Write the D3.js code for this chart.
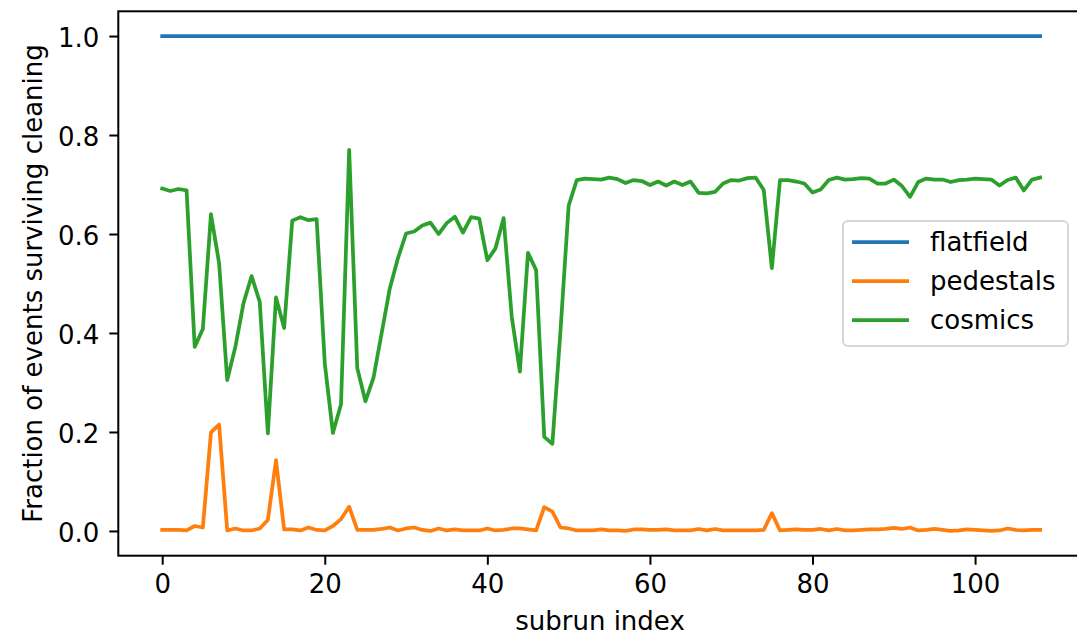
<!DOCTYPE html>
<html>
<head>
<meta charset="utf-8">
<script src="https://cdn.jsdelivr.net/npm/d3@7"></script>
<style>
  body { margin: 0; background: #fff; }
  svg { display: block; font-family: "DejaVu Sans", sans-serif; }
</style>
</head>
<body>
<div id="chart"></div>
<script>
// values
const subruns = d3.range(0, 109);

const flatfield = subruns.map(() => 1.0);

const pedestals = [
  0.002, 0.002, 0.002, 0.001, 0.010, 0.007, 0.199, 0.215, 0.001, 0.005,
  0.001, 0.001, 0.005, 0.022, 0.143, 0.003, 0.003, 0.001, 0.007, 0.002,
  0.001, 0.010, 0.024, 0.049, 0.002, 0.002, 0.002, 0.004, 0.007, 0.001,
  0.005, 0.007, 0.002, 0.000, 0.005, 0.001, 0.003, 0.001, 0.001, 0.001,
  0.005, 0.001, 0.002, 0.005, 0.005, 0.003, 0.001, 0.048, 0.039, 0.007,
  0.005, 0.001, 0.001, 0.001, 0.003, 0.001, 0.001, 0.000, 0.003, 0.003,
  0.002, 0.002, 0.003, 0.001, 0.001, 0.001, 0.004, 0.001, 0.004, 0.001,
  0.001, 0.001, 0.001, 0.001, 0.002, 0.036, 0.001, 0.002, 0.003, 0.002,
  0.002, 0.004, 0.001, 0.004, 0.001, 0.001, 0.002, 0.003, 0.003, 0.004,
  0.006, 0.004, 0.007, 0.001, 0.002, 0.004, 0.002, 0.000, 0.001, 0.003,
  0.002, 0.001, 0.000, 0.001, 0.005, 0.002, 0.001, 0.002, 0.002
];

const cosmics = [
  0.692, 0.687, 0.691, 0.688, 0.372, 0.408, 0.640, 0.541, 0.305, 0.372,
  0.460, 0.515, 0.463, 0.197, 0.472, 0.410, 0.627, 0.634, 0.628, 0.630,
  0.339, 0.198, 0.256, 0.770, 0.329, 0.262, 0.310, 0.400, 0.490, 0.551,
  0.601, 0.605, 0.617, 0.623, 0.600, 0.622, 0.635, 0.603, 0.634, 0.631,
  0.547, 0.571, 0.632, 0.433, 0.322, 0.562, 0.527, 0.190, 0.176, 0.405,
  0.657, 0.709, 0.712, 0.711, 0.710, 0.714, 0.711, 0.703, 0.709, 0.707,
  0.699, 0.706, 0.698, 0.706, 0.699, 0.706, 0.683, 0.682, 0.685, 0.702,
  0.709, 0.708, 0.713, 0.714, 0.689, 0.531, 0.709, 0.709, 0.706, 0.702,
  0.684, 0.690, 0.709, 0.714, 0.710, 0.711, 0.713, 0.712, 0.702, 0.702,
  0.710, 0.697, 0.675, 0.705, 0.712, 0.710, 0.710, 0.705, 0.709, 0.710,
  0.712, 0.711, 0.710, 0.698, 0.709, 0.714, 0.688, 0.710, 0.714
];

const seriesNames = ["flatfield", "pedestals", "cosmics"];
const seriesColors = ["#1f77b4", "#ff7f0e", "#2ca02c"];
const xTicks = [0, 20, 40, 60, 80, 100];
const yTicks = [0.0, 0.2, 0.4, 0.6, 0.8, 1.0];

const config = {
    width: 1077,
    height: 638,
    // the axes run past the right edge of the picture, as in the reference
    axes: {left: 118.3, right: 1084, top: 11.3, bottom: 555.7},
    fontSize: 26
};

const svg = d3.select("#chart").append("svg")
    .attr("width", config.width)
    .attr("height", config.height);

const ax = config.axes;

// matplotlib style 5% margins around the data
const xExt = d3.extent(subruns);
const xPad = (xExt[1] - xExt[0]) * 0.05;
const xScale = d3.scaleLinear()
    .domain([xExt[0] - xPad, xExt[1] + xPad])
    .range([ax.left, ax.right]);

const yMin = d3.min(pedestals.concat(cosmics, flatfield));
const yMax = d3.max(pedestals.concat(cosmics, flatfield));
const yPad = (yMax - yMin) * 0.05;
const yScale = d3.scaleLinear()
    .domain([yMin - yPad, yMax + yPad])
    .range([ax.bottom, ax.top]);

// lines
const line = d3.line()
    .x((d, i) => xScale(subruns[i]))
    .y(d => yScale(d));

const allSeries = [flatfield, pedestals, cosmics];

svg.append("g")
    .selectAll("path")
    .data(allSeries)
    .join("path")
    .attr("d", line)
    .attr("fill", "none")
    .attr("stroke", (d, i) => seriesColors[i])
    .attr("stroke-width", 3.75)
    .attr("stroke-linejoin", "round")
    .attr("stroke-linecap", "square");

// spines
svg.append("rect")
    .attr("x", ax.left)
    .attr("y", ax.top)
    .attr("width", ax.right - ax.left)
    .attr("height", ax.bottom - ax.top)
    .attr("fill", "none")
    .attr("stroke", "#000")
    .attr("stroke-width", 2);

// axes
const xAxis = d3.axisBottom(xScale)
    .tickValues(xTicks)
    .tickFormat(d3.format("d"))
    .tickSize(9)
    .tickPadding(10);

const xAxisG = svg.append("g")
    .attr("transform", `translate(0,${ax.bottom})`)
    .call(xAxis);

const yAxis = d3.axisLeft(yScale)
    .tickValues(yTicks)
    .tickFormat(d3.format(".1f"))
    .tickSize(9)
    .tickPadding(10);

const yAxisG = svg.append("g")
    .attr("transform", `translate(${ax.left},0)`)
    .call(yAxis);

[xAxisG, yAxisG].forEach(g => {
    g.select(".domain").remove();
    g.selectAll(".tick line").attr("stroke", "#000").attr("stroke-width", 2);
    g.selectAll(".tick text")
        .attr("fill", "#000")
        .style("font-family", "DejaVu Sans")
        .style("font-size", config.fontSize + "px");
});
yAxisG.selectAll(".tick text").attr("dy", "0.42em");

// axis labels
svg.append("text")
    .attr("x", 600)
    .attr("y", 630)
    .attr("text-anchor", "middle")
    .style("font-size", config.fontSize + "px")
    .text("subrun index");

svg.append("text")
    .attr("transform", `translate(42,${(ax.top + ax.bottom) / 2}) rotate(-90)`)
    .attr("text-anchor", "middle")
    .style("font-size", config.fontSize + "px")
    .text("Fraction of events surviving cleaning");

// legend
const legend = svg.append("g")
    .attr("transform", "translate(843,221)");

legend.append("rect")
    .attr("width", 225)
    .attr("height", 125)
    .attr("rx", 5)
    .attr("fill", "#fff")
    .attr("fill-opacity", 0.8)
    .attr("stroke", "#d6d6d6")
    .attr("stroke-width", 2);

const items = legend.selectAll("g.item")
    .data(seriesNames)
    .join("g")
    .attr("class", "item")
    .attr("transform", (d, i) => `translate(0,${21 + i * 39})`);

items.append("line")
    .attr("x1", 9)
    .attr("x2", 66)
    .attr("stroke", (d, i) => seriesColors[i])
    .attr("stroke-width", 3.75);

items.append("text")
    .attr("x", 87)
    .attr("dy", "0.36em")
    .style("font-size", config.fontSize + "px")
    .text(d => d);
</script>
</body>
</html>
